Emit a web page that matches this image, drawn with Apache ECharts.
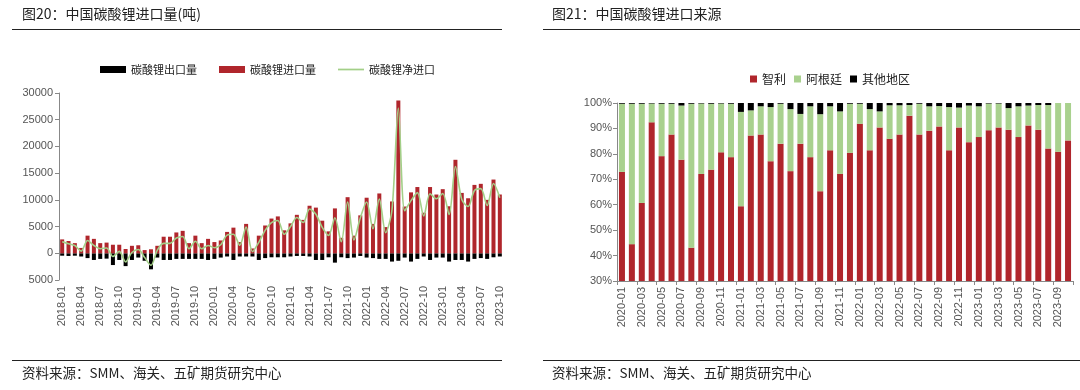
<!DOCTYPE html>
<html><head><meta charset="utf-8">
<script src="https://cdn.jsdelivr.net/npm/echarts@6/dist/echarts.min.js"></script>
<style>html,body{margin:0;padding:0;background:#fff}#c{width:1080px;height:390px}</style>
</head><body><div id="c"></div>
<script>
// ---- Left chart data (吨) ----
const monthsL = [];
for (let y = 2018; y <= 2023; y++) for (let m = 1; m <= 12; m++) { if (y === 2023 && m > 10) break; monthsL.push(y + '-' + String(m).padStart(2, '0')); }
const imports = [
  2600, 2300, 1900, 1000, 3300, 2700, 1900, 2000, 1600, 1600, 800, 1400,
  1500, 600, 750, 1400, 3100, 3100, 3900, 4200, 1900, 3300, 1900, 2700,
  2100, 2400, 4000, 4800, 2100, 5500, 900, 3300, 5200, 6500, 6900, 4300,
  5600, 7200, 6250, 8900, 8550, 6100, 4100, 8400, 2900, 10500, 3300, 7100,
  10400, 5500, 11200, 4900, 9700, 28600, 8750, 11400, 12400, 7600, 12400, 11000,
  12000, 8800, 17500, 11300, 10300, 12800, 13000, 10000, 13800, 11000
];
const exportsNeg = [
  -450, -500, -450, -600, -900, -1250, -1050, -1000, -2200, -1250, -2400, -1250,
  -800, -1400, -3000, -800, -1250, -1250, -1050, -1050, -1050, -1050, -1050, -1250,
  -1050, -800, -600, -1250, -600, -600, -600, -1250, -900, -750, -750, -750,
  -600, -500, -500, -600, -1250, -1250, -750, -1750, -750, -900, -800, -500,
  -800, -900, -1050, -1050, -1550, -1400, -800, -1550, -1050, -600, -1250, -800,
  -800, -1550, -1250, -1250, -1550, -1050, -900, -1050, -750, -600
];
const netImports = [
  2150, 1800, 1450, 400, 2400, 1450, 850, 1000, -600, 350, -1600, 150,
  700, -800, -2250, 600, 1850, 1850, 2850, 3150, 850, 2250, 850, 1450,
  1050, 1600, 3400, 3550, 1500, 4900, 300, 2050, 4300, 5750, 6150, 3550,
  5000, 6700, 5750, 8300, 7300, 4850, 3350, 6650, 2150, 9600, 2500, 6600,
  9600, 4600, 10150, 3850, 8150, 27200, 7950, 9850, 11350, 7000, 11150, 10200,
  11200, 7250, 16250, 10050, 8750, 11750, 12100, 8950, 13050, 10400
];
// ---- Right chart data (%) ----
const monthsR = monthsL.slice(24);
const chile = [
  72.9, 44.5, 60.7, 92.4, 79.1, 87.6, 77.7, 43.1, 72.1, 73.8, 80.6, 78.7,
  59.4, 87.2, 87.6, 77.1, 84.0, 73.2, 84.0, 78.7, 65.3, 81.4, 72.1, 80.4,
  91.8, 81.4, 90.4, 85.9, 87.6, 95.0, 87.6, 89.1, 90.8, 81.4, 90.4, 84.6,
  86.6, 89.3, 90.4, 89.5, 86.6, 91.2, 89.5, 82.1, 80.8, 85.3
];
const argentina = [
  26.8, 55.2, 39.0, 7.4, 20.6, 12.1, 21.3, 56.6, 27.7, 25.9, 19.2, 21.0,
  37.1, 9.9, 11.1, 21.3, 15.7, 24.4, 11.7, 20.0, 30.3, 17.3, 24.6, 19.3,
  7.9, 16.2, 6.3, 13.2, 11.5, 4.2, 12.1, 9.6, 8.0, 17.0, 7.8, 14.4,
  12.1, 10.5, 9.4, 8.5, 12.1, 7.8, 9.7, 17.1, 19.2, 14.7
];
const others = [
  0.3, 0.3, 0.3, 0.2, 0.3, 0.3, 1.0, 0.3, 0.2, 0.3, 0.2, 0.3,
  3.5, 2.9, 1.3, 1.6, 0.3, 2.4, 4.3, 1.3, 4.4, 1.3, 3.3, 0.3,
  0.3, 2.4, 3.3, 0.9, 0.9, 0.8, 0.3, 1.3, 1.2, 1.6, 1.8, 1.0,
  1.3, 0.2, 0.2, 2.0, 1.3, 1.0, 0.8, 0.8, 0, 0
];
const yTicksL = { min: -5000, max: 30000, interval: 5000 };
const yTicksR = { min: 30, max: 100, interval: 10 };

const RED = '#b0262c', GREEN = '#a9d18e', LINEG = '#a3cf88', BLACK = '#000000';
const FONT = '"Noto Sans CJK SC", "Noto Sans", sans-serif';
const AXF = 'Arial, "Liberation Sans", sans-serif';

const chart = echarts.init(document.getElementById('c'), null, { renderer: 'canvas' });
chart.setOption({
  animation: false,
  backgroundColor: '#fff',
  textStyle: { fontFamily: FONT },
  graphic: [
    { type: 'text', left: 22, top: 7, style: { text: '图20：中国碳酸锂进口量(吨)', font: '14px ' + FONT, fill: '#222' } },
    { type: 'text', left: 552, top: 7, style: { text: '图21：中国碳酸锂进口来源', font: '14px ' + FONT, fill: '#222' } },
    { type: 'line', shape: { x1: 12, y1: 29.5, x2: 502, y2: 29.5 }, style: { stroke: '#222', lineWidth: 1.2 } },
    { type: 'line', shape: { x1: 543, y1: 29.5, x2: 1080, y2: 29.5 }, style: { stroke: '#222', lineWidth: 1.2 } },
    { type: 'line', shape: { x1: 12, y1: 360.5, x2: 502, y2: 360.5 }, style: { stroke: '#222', lineWidth: 1.2 } },
    { type: 'line', shape: { x1: 543, y1: 360.5, x2: 1080, y2: 360.5 }, style: { stroke: '#222', lineWidth: 1.2 } },
    { type: 'text', left: 22, top: 366, style: { text: '资料来源：SMM、海关、五矿期货研究中心', font: '13.5px ' + FONT, fill: '#222' } },
    { type: 'text', left: 552, top: 366, style: { text: '资料来源：SMM、海关、五矿期货研究中心', font: '13.5px ' + FONT, fill: '#222' } }
  ],
  legend: [
    {
      left: 95, top: 59, itemGap: 22, itemWidth: 26, itemHeight: 7,
      textStyle: { fontSize: 11, color: '#222', fontFamily: FONT },
      data: [
        { name: '碳酸锂出口量', icon: 'rect' },
        { name: '碳酸锂进口量', icon: 'rect' },
        { name: '碳酸锂净进口', icon: 'path://M0,0h30v2h-30z' }
      ]
    },
    {
      left: 745, top: 68, itemGap: 8, itemWidth: 7, itemHeight: 7,
      textStyle: { fontSize: 12, color: '#222', fontFamily: FONT },
      data: [
        { name: '智利', icon: 'rect' },
        { name: '阿根廷', icon: 'rect' },
        { name: '其他地区', icon: 'rect' }
      ]
    }
  ],
  grid: [
    { left: 59, top: 93, width: 444, height: 187 },
    { left: 617, top: 103, width: 456, height: 178 }
  ],
  xAxis: [
    {
      type: 'category', gridIndex: 0, data: monthsL, boundaryGap: true,
      position: 'bottom', axisLine: { show: false, onZero: false }, axisTick: { show: false },
      axisLabel: { interval: 2, rotate: 90, fontSize: 11, color: '#555', fontFamily: AXF, margin: 6 }
    },
    {
      type: 'category', gridIndex: 1, data: monthsR, boundaryGap: true,
      axisLine: { show: true, lineStyle: { color: '#888' } },
      axisTick: { show: true, interval: 1, length: 4, lineStyle: { color: '#888' } },
      axisLabel: { interval: 1, rotate: 90, fontSize: 11, color: '#555', fontFamily: AXF, margin: 6 }
    }
  ],
  yAxis: [
    {
      type: 'value', gridIndex: 0, min: yTicksL.min, max: yTicksL.max, interval: yTicksL.interval,
      axisLine: { show: true, lineStyle: { color: '#888' } },
      axisTick: { show: true, length: 4, lineStyle: { color: '#888' } },
      splitLine: { show: false },
      axisLabel: { fontSize: 11, color: '#555', fontFamily: AXF, margin: 6, formatter: v => String(Math.abs(v)) }
    },
    {
      type: 'value', gridIndex: 1, min: yTicksR.min, max: yTicksR.max, interval: yTicksR.interval,
      axisLine: { show: true, lineStyle: { color: '#888' } },
      axisTick: { show: true, length: 4, lineStyle: { color: '#888' } },
      splitLine: { show: false },
      axisLabel: { fontSize: 11, color: '#555', fontFamily: AXF, margin: 5, formatter: '{value}%' }
    }
  ],
  series: [
    { name: '碳酸锂出口量', type: 'bar', xAxisIndex: 0, yAxisIndex: 0, stack: 'L', barWidth: 4, data: exportsNeg, itemStyle: { color: BLACK } },
    { name: '碳酸锂进口量', type: 'bar', xAxisIndex: 0, yAxisIndex: 0, stack: 'L', barWidth: 4, data: imports, itemStyle: { color: RED } },
    { name: '碳酸锂净进口', type: 'line', xAxisIndex: 0, yAxisIndex: 0, data: netImports, symbol: 'none', smooth: 0.3, lineStyle: { color: LINEG, width: 1.6 }, itemStyle: { color: LINEG }, z: 5 },
    { name: '智利', type: 'bar', xAxisIndex: 1, yAxisIndex: 1, stack: 'R', barWidth: 6, data: chile, itemStyle: { color: RED } },
    { name: '阿根廷', type: 'bar', xAxisIndex: 1, yAxisIndex: 1, stack: 'R', barWidth: 6, data: argentina, itemStyle: { color: GREEN } },
    { name: '其他地区', type: 'bar', xAxisIndex: 1, yAxisIndex: 1, stack: 'R', barWidth: 6, data: others, itemStyle: { color: BLACK } }
  ]
});
</script></body></html>
